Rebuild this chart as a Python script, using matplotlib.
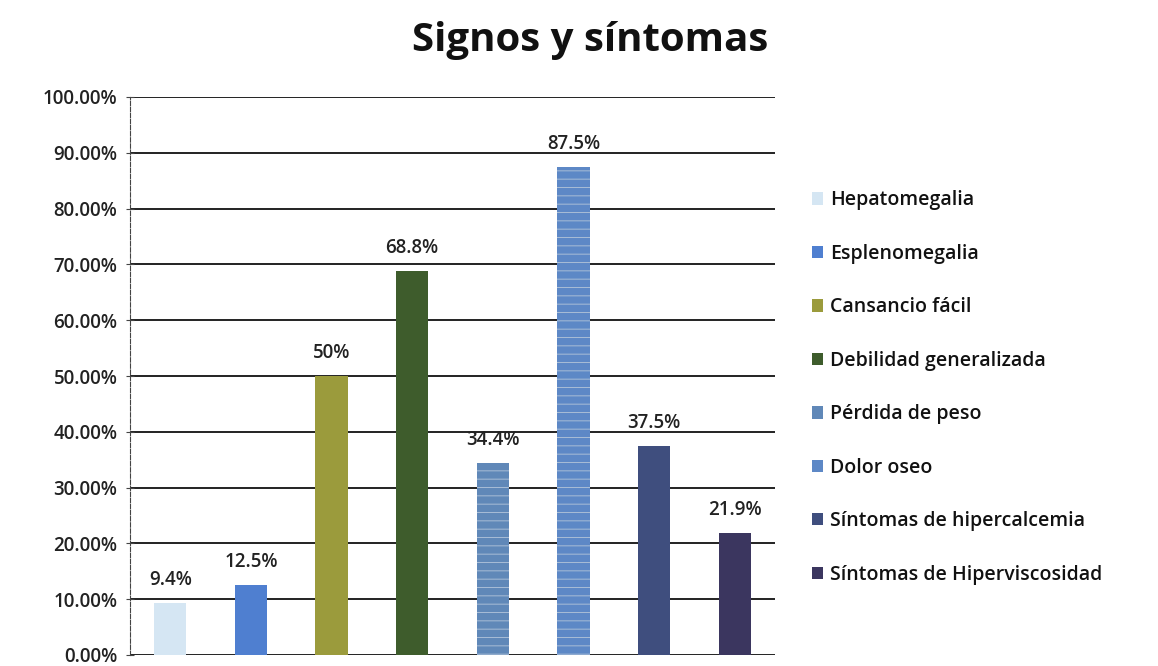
import matplotlib
matplotlib.use("Agg")
import matplotlib.pyplot as plt
from matplotlib.patches import Patch

categories = ["Hepatomegalia", "Esplenomegalia", "Cansancio fácil",
              "Debilidad generalizada", "Pérdida de peso", "Dolor oseo",
              "Síntomas de hipercalcemia", "Síntomas de Hiperviscosidad"]
values = [9.4, 12.5, 50.0, 68.8, 34.4, 87.5, 37.5, 21.9]
labels = ["9.4%", "12.5%", "50%", "68.8%", "34.4%", "87.5%", "37.5%", "21.9%"]
colors = ["#d5e6f3", "#4f7fd0", "#9b9b3c", "#3e5c2c", "#6088b8", "#5d88c6", "#3f4e7e", "#3b365f"]
hatches = [None, None, None, None, "--", "--", None, None]
yticks = [0, 10, 20, 30, 40, 50, 60, 70, 80, 90, 100]

plt.rcParams['font.family'] = ['Open Sans', 'DejaVu Sans']
plt.rcParams['hatch.linewidth'] = 0.7

fig = plt.figure(figsize=(11.58, 6.66), dpi=100)
ax = fig.add_axes([130/1158, 1 - 655/666, 645/1158, (655-97)/666])

x = list(range(len(categories)))
bars = ax.bar(x, values, width=0.4, color=colors, zorder=3, linewidth=0)
for b, h in zip(bars, hatches):
    if h:
        b.set_hatch(h)
        b.set_edgecolor("#a9bdd6")

for xi, v, lab in zip(x, values, labels):
    ax.text(xi, v + 2.3, lab, ha="center", va="bottom", fontsize=13.5,
            fontweight="semibold", color="#222222", zorder=4)

ax.set_xlim(-0.5, len(categories) - 0.5)
ax.set_ylim(0, 100)
ax.set_yticks(yticks)
ax.set_yticklabels([f"{t:.2f}%" for t in yticks], fontsize=13.5, fontweight="semibold", color="#222222")
ax.set_xticks([])
ax.grid(axis="y", color="#111111", linewidth=1.3, zorder=0)
for s in ["top", "right", "bottom"]:
    ax.spines[s].set_visible(False)
ax.spines["left"].set_linestyle((0, (4, 1.5)))
ax.spines["left"].set_color("#444444")
ax.spines["left"].set_linewidth(0.8)
ax.tick_params(axis="y", length=6, direction="inout", color="#444444", pad=6)

fig.text(590/1158, 1 - 40/666, "Signos y síntomas", ha="center", va="center",
         fontsize=29, fontweight="bold", color="#111111")

handles = [Patch(facecolor=c, edgecolor="none") for c in colors]
leg = fig.legend(handles, categories, loc="upper left",
                 bbox_to_anchor=(794/1158, 1 - 173/666), frameon=False,
                 fontsize=14, handlelength=0.6, handleheight=0.6,
                 handletextpad=0.35, labelspacing=1.72)
for t in leg.get_texts():
    t.set_color("#111111")
    t.set_fontweight("semibold")

fig.savefig("out.png", dpi=100, facecolor="white")
